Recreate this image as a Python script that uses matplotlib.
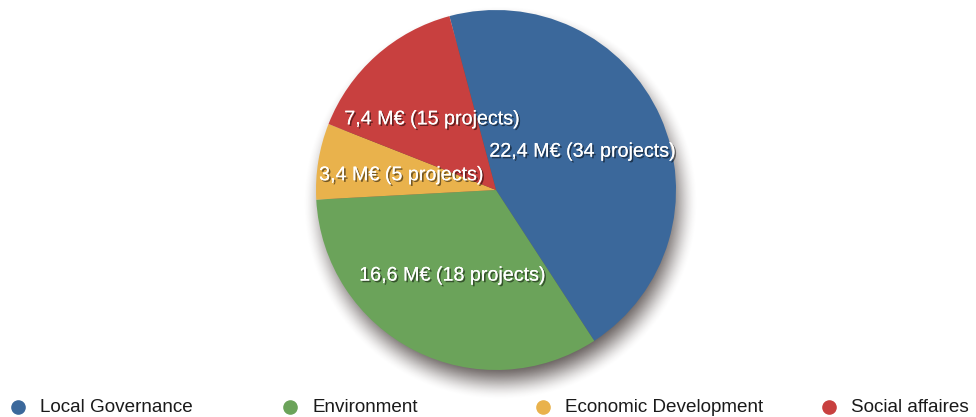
"""Pie chart of funding by sector with a soft drop shadow."""

import matplotlib
matplotlib.use("Agg")
import matplotlib.pyplot as plt
import matplotlib.patheffects as pe
import numpy as np

categories = ["Local Governance", "Environment", "Economic Development", "Social affaires"]
amounts = [22.4, 16.6, 3.4, 7.4]          # M€
projects = [34, 18, 5, 15]
colors = ["#3b689b", "#6ba35a", "#e9b24c", "#c8403f"]

plt.rcParams["font.family"] = ["Liberation Sans", "DejaVu Sans"]

fig = plt.figure(figsize=(9.76, 4.17), dpi=100)
# one data unit = 180 px, pie centre at (496, 190) px from top-left
ax = fig.add_axes([280 / 976, 0, 432 / 976, 1])
y_top, y_bot = 190 / 180, -227 / 180

# soft shadow under the pie
xs = np.linspace(-1.2, 1.2, 600)
ys = np.linspace(y_bot, y_top, 520)
X, Y = np.meshgrid(xs, ys)
d = np.hypot(X - 0.025, Y + 0.07)
t = np.clip((1.1 - d) / 0.22, 0, 1)
alpha = t * t * (3 - 2 * t) * 0.8
shadow = np.zeros(X.shape + (4,))
shadow[..., 0] = 0.20
shadow[..., 1] = 0.16
shadow[..., 2] = 0.15
shadow[..., 3] = alpha
ax.imshow(shadow, extent=(xs[0], xs[-1], ys[0], ys[-1]), origin="lower",
          interpolation="bilinear", zorder=0)

wedges, _ = ax.pie(amounts, colors=colors, startangle=105, counterclock=False,
                   radius=1.0, wedgeprops={"linewidth": 0, "zorder": 1})

shadow_fx = [pe.withSimplePatchShadow(offset=(1.2, -1.2), shadow_rgbFace="black", alpha=0.5),
             pe.Normal()]
for w, amt, n in zip(wedges, amounts, projects):
    mid = np.deg2rad((w.theta1 + w.theta2) / 2)
    label = f"{amt:.1f} M€ ({n} projects)".replace(".", ",")
    ax.text(0.53 * np.cos(mid), 0.53 * np.sin(mid), label, ha="center", va="center",
            color="white", fontsize=14.2, path_effects=shadow_fx, zorder=3)

ax.set_xlim(-1.2, 1.2)
ax.set_ylim(y_bot, y_top)
ax.axis("off")

# legend row along the bottom
leg_x = [18, 290, 543, 829]
leg_y = 1 - 407 / 417
for x, name, c in zip(leg_x, categories, colors):
    fig.lines.append(plt.Line2D([x / 976], [leg_y], transform=fig.transFigure, marker="o",
                                markersize=9.5, color=c, linestyle="none"))
    fig.text((x + 22) / 976, leg_y, name, ha="left", va="center", fontsize=13.6,
             color="#1a1a1a")

fig.savefig("out.png", dpi=100)
